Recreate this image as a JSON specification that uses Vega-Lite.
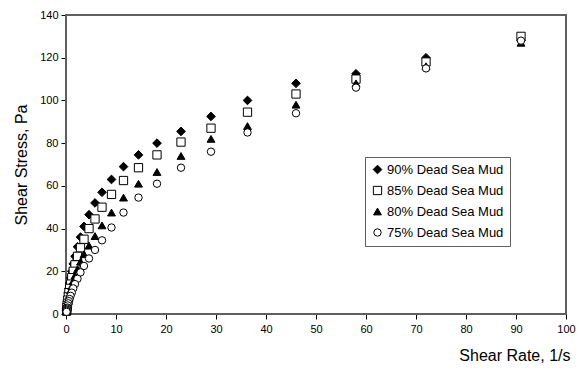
{
  "$schema": "https://vega.github.io/schema/vega-lite/v6.json",
  "width": 500,
  "height": 299,
  "autosize": "none",
  "padding": {"left": 66, "top": 15, "right": 13, "bottom": 60},
  "background": "white",
  "config": {
    "font": "Liberation Sans",
    "view": {"stroke": "#606060", "strokeWidth": 1},
    "axis": {"grid": false, "domainColor": "black", "tickColor": "black", "labelColor": "black", "titleColor": "black", "labelFont": "Liberation Sans", "titleFont": "Liberation Sans", "labelFontSize": 11, "titleFontSize": 16, "titleFontWeight": "normal", "tickSize": 5},
    "legend": {"title": null, "orient": "none", "legendX": 299, "legendY": 142, "strokeColor": "#606060", "padding": 6, "labelFontSize": 13, "labelFont": "Liberation Sans", "labelColor": "black", "symbolStrokeWidth": 1, "rowPadding": 7, "labelOffset": 3, "fillColor": "white"}
  },
  "data": {
    "values": [
      {"series": "90% Dead Sea Mud", "rate": 91, "stress": 128},
      {"series": "90% Dead Sea Mud", "rate": 72, "stress": 120},
      {"series": "90% Dead Sea Mud", "rate": 58, "stress": 112.5},
      {"series": "90% Dead Sea Mud", "rate": 46, "stress": 108},
      {"series": "90% Dead Sea Mud", "rate": 36.3, "stress": 100},
      {"series": "90% Dead Sea Mud", "rate": 29, "stress": 92.5},
      {"series": "90% Dead Sea Mud", "rate": 23, "stress": 85.5},
      {"series": "90% Dead Sea Mud", "rate": 18.2, "stress": 80},
      {"series": "90% Dead Sea Mud", "rate": 14.5, "stress": 74.5},
      {"series": "90% Dead Sea Mud", "rate": 11.5, "stress": 69},
      {"series": "90% Dead Sea Mud", "rate": 9.1, "stress": 63},
      {"series": "90% Dead Sea Mud", "rate": 7.2, "stress": 57},
      {"series": "90% Dead Sea Mud", "rate": 5.8, "stress": 52},
      {"series": "90% Dead Sea Mud", "rate": 4.6, "stress": 46.5},
      {"series": "90% Dead Sea Mud", "rate": 3.6, "stress": 41},
      {"series": "90% Dead Sea Mud", "rate": 2.9, "stress": 36},
      {"series": "90% Dead Sea Mud", "rate": 2.3, "stress": 31.5},
      {"series": "90% Dead Sea Mud", "rate": 1.8, "stress": 27},
      {"series": "90% Dead Sea Mud", "rate": 1.45, "stress": 23.5},
      {"series": "90% Dead Sea Mud", "rate": 1.15, "stress": 20},
      {"series": "90% Dead Sea Mud", "rate": 0.91, "stress": 17},
      {"series": "90% Dead Sea Mud", "rate": 0.72, "stress": 14.5},
      {"series": "90% Dead Sea Mud", "rate": 0.58, "stress": 12},
      {"series": "90% Dead Sea Mud", "rate": 0.46, "stress": 10},
      {"series": "90% Dead Sea Mud", "rate": 0.36, "stress": 8},
      {"series": "90% Dead Sea Mud", "rate": 0.29, "stress": 6.5},
      {"series": "90% Dead Sea Mud", "rate": 0.23, "stress": 5},
      {"series": "90% Dead Sea Mud", "rate": 0.18, "stress": 3.5},
      {"series": "90% Dead Sea Mud", "rate": 0.145, "stress": 2.5},
      {"series": "90% Dead Sea Mud", "rate": 0.115, "stress": 1.5},
      {"series": "85% Dead Sea Mud", "rate": 91, "stress": 130},
      {"series": "85% Dead Sea Mud", "rate": 72, "stress": 118},
      {"series": "85% Dead Sea Mud", "rate": 58, "stress": 110},
      {"series": "85% Dead Sea Mud", "rate": 46, "stress": 103},
      {"series": "85% Dead Sea Mud", "rate": 36.3, "stress": 94.5},
      {"series": "85% Dead Sea Mud", "rate": 29, "stress": 87},
      {"series": "85% Dead Sea Mud", "rate": 23, "stress": 80.5},
      {"series": "85% Dead Sea Mud", "rate": 18.2, "stress": 74.5},
      {"series": "85% Dead Sea Mud", "rate": 14.5, "stress": 68.5},
      {"series": "85% Dead Sea Mud", "rate": 11.5, "stress": 62.5},
      {"series": "85% Dead Sea Mud", "rate": 9.1, "stress": 56},
      {"series": "85% Dead Sea Mud", "rate": 7.2, "stress": 50},
      {"series": "85% Dead Sea Mud", "rate": 5.8, "stress": 44.5},
      {"series": "85% Dead Sea Mud", "rate": 4.6, "stress": 40},
      {"series": "85% Dead Sea Mud", "rate": 3.6, "stress": 35},
      {"series": "85% Dead Sea Mud", "rate": 2.9, "stress": 31},
      {"series": "85% Dead Sea Mud", "rate": 2.3, "stress": 27},
      {"series": "85% Dead Sea Mud", "rate": 1.8, "stress": 23},
      {"series": "85% Dead Sea Mud", "rate": 1.45, "stress": 20},
      {"series": "85% Dead Sea Mud", "rate": 1.15, "stress": 17},
      {"series": "85% Dead Sea Mud", "rate": 0.91, "stress": 14},
      {"series": "85% Dead Sea Mud", "rate": 0.72, "stress": 12},
      {"series": "85% Dead Sea Mud", "rate": 0.58, "stress": 10},
      {"series": "85% Dead Sea Mud", "rate": 0.46, "stress": 8},
      {"series": "85% Dead Sea Mud", "rate": 0.36, "stress": 6.5},
      {"series": "85% Dead Sea Mud", "rate": 0.29, "stress": 5},
      {"series": "85% Dead Sea Mud", "rate": 0.23, "stress": 4},
      {"series": "85% Dead Sea Mud", "rate": 0.18, "stress": 3},
      {"series": "85% Dead Sea Mud", "rate": 0.145, "stress": 2},
      {"series": "85% Dead Sea Mud", "rate": 0.115, "stress": 1.5},
      {"series": "80% Dead Sea Mud", "rate": 91, "stress": 127},
      {"series": "80% Dead Sea Mud", "rate": 72, "stress": 116},
      {"series": "80% Dead Sea Mud", "rate": 58, "stress": 108},
      {"series": "80% Dead Sea Mud", "rate": 46, "stress": 98},
      {"series": "80% Dead Sea Mud", "rate": 36.3, "stress": 88},
      {"series": "80% Dead Sea Mud", "rate": 29, "stress": 82},
      {"series": "80% Dead Sea Mud", "rate": 23, "stress": 74},
      {"series": "80% Dead Sea Mud", "rate": 18.2, "stress": 66.5},
      {"series": "80% Dead Sea Mud", "rate": 14.5, "stress": 61},
      {"series": "80% Dead Sea Mud", "rate": 11.5, "stress": 54.5},
      {"series": "80% Dead Sea Mud", "rate": 9.1, "stress": 47.5},
      {"series": "80% Dead Sea Mud", "rate": 7.2, "stress": 41.5},
      {"series": "80% Dead Sea Mud", "rate": 5.8, "stress": 36.5},
      {"series": "80% Dead Sea Mud", "rate": 4.6, "stress": 32},
      {"series": "80% Dead Sea Mud", "rate": 3.6, "stress": 28},
      {"series": "80% Dead Sea Mud", "rate": 2.9, "stress": 24.5},
      {"series": "80% Dead Sea Mud", "rate": 2.3, "stress": 21},
      {"series": "80% Dead Sea Mud", "rate": 1.8, "stress": 18},
      {"series": "80% Dead Sea Mud", "rate": 1.45, "stress": 15.5},
      {"series": "80% Dead Sea Mud", "rate": 1.15, "stress": 13},
      {"series": "80% Dead Sea Mud", "rate": 0.91, "stress": 11},
      {"series": "80% Dead Sea Mud", "rate": 0.72, "stress": 9},
      {"series": "80% Dead Sea Mud", "rate": 0.58, "stress": 7.5},
      {"series": "80% Dead Sea Mud", "rate": 0.46, "stress": 6},
      {"series": "80% Dead Sea Mud", "rate": 0.36, "stress": 5},
      {"series": "80% Dead Sea Mud", "rate": 0.29, "stress": 4},
      {"series": "80% Dead Sea Mud", "rate": 0.23, "stress": 3},
      {"series": "80% Dead Sea Mud", "rate": 0.18, "stress": 2.5},
      {"series": "80% Dead Sea Mud", "rate": 0.145, "stress": 1.5},
      {"series": "80% Dead Sea Mud", "rate": 0.115, "stress": 1},
      {"series": "75% Dead Sea Mud", "rate": 91, "stress": 128},
      {"series": "75% Dead Sea Mud", "rate": 72, "stress": 115},
      {"series": "75% Dead Sea Mud", "rate": 58, "stress": 106},
      {"series": "75% Dead Sea Mud", "rate": 46, "stress": 94},
      {"series": "75% Dead Sea Mud", "rate": 36.3, "stress": 85},
      {"series": "75% Dead Sea Mud", "rate": 29, "stress": 76},
      {"series": "75% Dead Sea Mud", "rate": 23, "stress": 68.5},
      {"series": "75% Dead Sea Mud", "rate": 18.2, "stress": 61},
      {"series": "75% Dead Sea Mud", "rate": 14.5, "stress": 54.5},
      {"series": "75% Dead Sea Mud", "rate": 11.5, "stress": 47.5},
      {"series": "75% Dead Sea Mud", "rate": 9.1, "stress": 40.5},
      {"series": "75% Dead Sea Mud", "rate": 7.2, "stress": 34.5},
      {"series": "75% Dead Sea Mud", "rate": 5.8, "stress": 30},
      {"series": "75% Dead Sea Mud", "rate": 4.6, "stress": 26},
      {"series": "75% Dead Sea Mud", "rate": 3.6, "stress": 22.5},
      {"series": "75% Dead Sea Mud", "rate": 2.9, "stress": 19.5},
      {"series": "75% Dead Sea Mud", "rate": 2.3, "stress": 16.5},
      {"series": "75% Dead Sea Mud", "rate": 1.8, "stress": 14},
      {"series": "75% Dead Sea Mud", "rate": 1.45, "stress": 12},
      {"series": "75% Dead Sea Mud", "rate": 1.15, "stress": 10},
      {"series": "75% Dead Sea Mud", "rate": 0.91, "stress": 8.5},
      {"series": "75% Dead Sea Mud", "rate": 0.72, "stress": 7},
      {"series": "75% Dead Sea Mud", "rate": 0.58, "stress": 6},
      {"series": "75% Dead Sea Mud", "rate": 0.46, "stress": 5},
      {"series": "75% Dead Sea Mud", "rate": 0.36, "stress": 4},
      {"series": "75% Dead Sea Mud", "rate": 0.29, "stress": 3},
      {"series": "75% Dead Sea Mud", "rate": 0.23, "stress": 2.5},
      {"series": "75% Dead Sea Mud", "rate": 0.18, "stress": 2},
      {"series": "75% Dead Sea Mud", "rate": 0.145, "stress": 1.5},
      {"series": "75% Dead Sea Mud", "rate": 0.115, "stress": 1}
    ]
  },
  "layer": [
    {
      "mark": {"type": "rect", "fill": null, "fillOpacity": 0, "stroke": "#606060", "strokeWidth": 1.5},
      "encoding": {
        "x": {"datum": 0, "type": "quantitative", "scale": {"domain": [0, 100], "nice": false, "zero": true}},
        "x2": {"datum": 100},
        "y": {"datum": 0, "type": "quantitative", "scale": {"domain": [0, 140], "nice": false}},
        "y2": {"datum": 140}
      }
    },
    {
      "mark": {"type": "point", "strokeWidth": 1, "opacity": 1, "fillOpacity": 1, "strokeOpacity": 1},
      "encoding": {
        "x": {
          "field": "rate", "type": "quantitative",
          "scale": {"domain": [0, 100], "nice": false, "zero": true},
          "axis": {"orient": "bottom", "values": [0,10,20,30,40,50,60,70,80,90,100], "title": "Shear Rate, 1/s", "titleAnchor": "end", "titlePadding": 13, "labelPadding": 4, "labelFlush": false, "titleFontSize": 16, "titleX": 504}
        },
        "y": {
          "field": "stress", "type": "quantitative",
          "scale": {"domain": [0, 140], "nice": false},
          "axis": {"orient": "left", "values": [0,10,20,30,40,50,60,70,80,90,100,110,120,130,140], "title": "Shear Stress, Pa", "titlePadding": 10, "labelPadding": 3, "labelFlush": false}
        },
        "shape": {
          "field": "series", "type": "nominal",
          "scale": {"domain": ["90% Dead Sea Mud", "85% Dead Sea Mud", "80% Dead Sea Mud", "75% Dead Sea Mud"], "range": ["diamond", "square", "triangle-up", "circle"]}
        },
        "fill": {
          "field": "series", "type": "nominal",
          "scale": {"domain": ["90% Dead Sea Mud", "85% Dead Sea Mud", "80% Dead Sea Mud", "75% Dead Sea Mud"], "range": ["black", "white", "black", "white"]}
        },
        "stroke": {
          "field": "series", "type": "nominal",
          "scale": {"domain": ["90% Dead Sea Mud", "85% Dead Sea Mud", "80% Dead Sea Mud", "75% Dead Sea Mud"], "range": ["black", "black", "black", "black"]}
        },
        "size": {
          "field": "series", "type": "nominal",
          "scale": {"domain": ["90% Dead Sea Mud", "85% Dead Sea Mud", "80% Dead Sea Mud", "75% Dead Sea Mud"], "range": [75, 55, 60, 40]}
        }
      }
    }
  ]
}
